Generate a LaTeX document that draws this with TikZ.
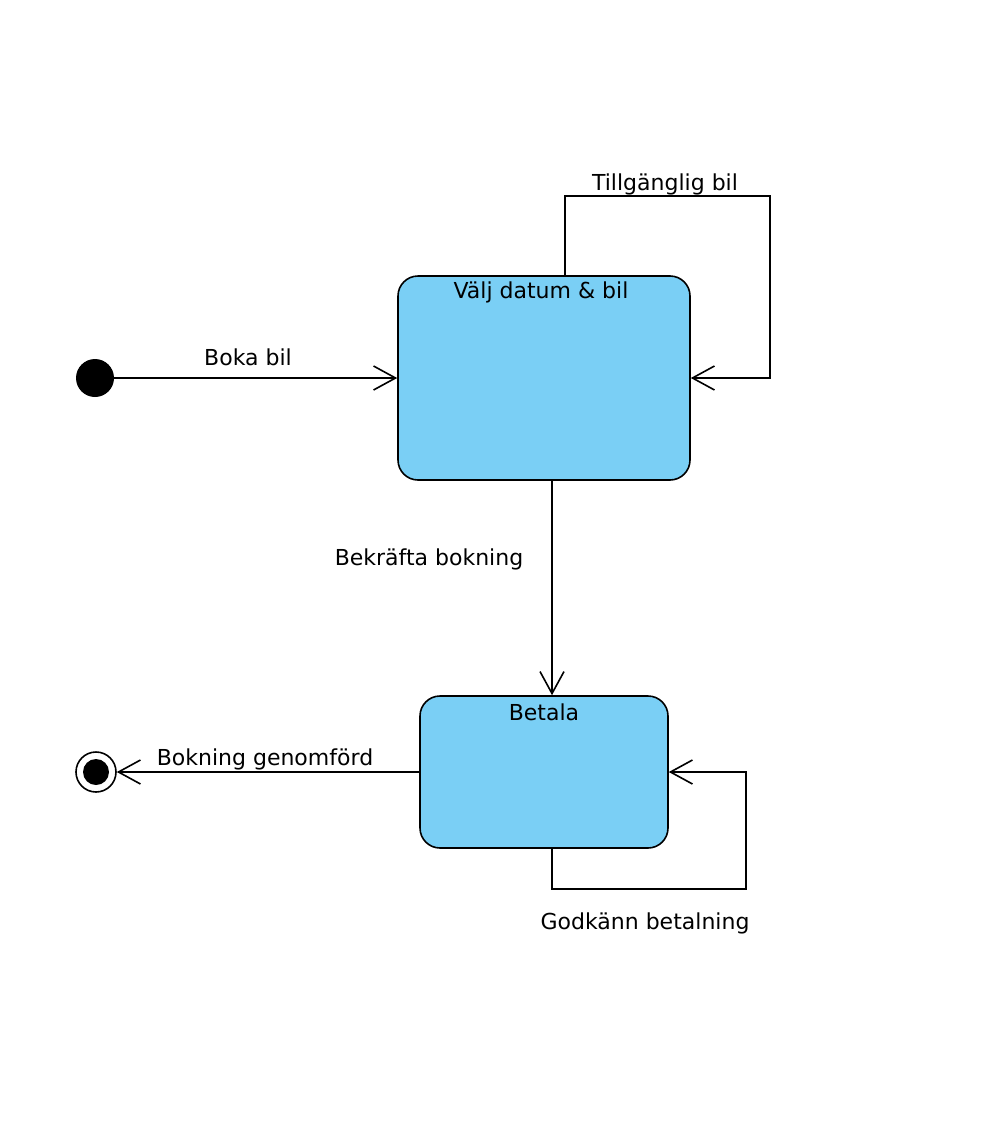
\documentclass[tikz,border=0pt]{standalone}
\usepackage{fontspec}
\setmainfont{DejaVu Sans}
\usepackage{xcolor}
\usetikzlibrary{arrows.meta}
\definecolor{stateblue}{RGB}{122,207,245}
\tikzset{
  state/.style={draw, line width=0.8pt, fill=stateblue, rounded corners=10pt, inner sep=0pt},
  arr/.style={line width=0.8pt, -{Straight Barb[length=11pt,width=12pt,line width=0.8pt]}},
  lbl/.style={font=\fontsize{11}{13}\selectfont, inner sep=0pt}
}
\begin{document}
\begin{tikzpicture}[x=0.5pt,y=-0.5pt]
					\useasboundingbox (0,0) rectangle (998,1124);
					\node[circle, fill=black, minimum size=19pt, inner sep=0pt] (start) at (95,378) {};
					\node[state, minimum width=146pt, minimum height=102pt] (valj) at (544,378) {};
					\node[state, minimum width=124pt, minimum height=76pt] (betala) at (544,772) {};
					\node[circle, draw, line width=0.8pt, minimum size=20pt, inner sep=0pt] (slut) at (96,772) {};
					\fill (slut) circle (6.5pt);
					
					\node[lbl] at (541,292) {Välj datum \& bil};
					\node[lbl] at (544,712) {Betala};
					
					\draw[arr] (start) -- (valj.west);
					\node[lbl] at (248,357) {Boka bil};
					
					\coordinate (loopA) at (565,196);
					\coordinate (loopB) at (770,196);
					\draw[arr] (loopA |- valj.north) -- (loopA) -- (loopB) |- (valj.east);
					\node[lbl] at (665,184) {Tillgänglig bil};
					
					\draw[arr] ([xshift=4pt]valj.south) -- ([xshift=4pt]betala.north);
					\node[lbl] at (429,559) {Bekräfta bokning};
					
					\coordinate (loopC) at (552,889);
					\coordinate (loopD) at (746,889);
					\draw[arr] (loopC |- betala.south) -- (loopC) -- (loopD) |- (betala.east);
					\node[lbl] at (645,923) {Godkänn betalning};
					
					\draw[arr] (betala.west) -- (slut);
					\node[lbl] at (265,759) {Bokning genomförd};
				\end{tikzpicture}
\end{document}
